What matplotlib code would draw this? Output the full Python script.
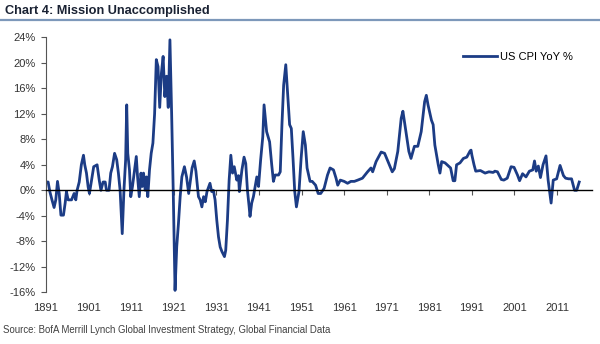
import matplotlib.pyplot as plt
from matplotlib.lines import Line2D

# US CPI, year-over-year % change (decimal years)
years = [
    1891.0, 1891.5, 1891.9, 1892.4, 1892.9, 1893.3, 1893.7, 1894.1, 1894.5, 1895.1,
    1895.5, 1895.8, 1896.2, 1897.0, 1897.6, 1898.0, 1898.3, 1898.8, 1899.3, 1899.8,
    1900.1, 1900.5, 1900.9, 1901.2, 1901.7, 1902.2, 1903.0, 1903.5, 1903.9, 1904.4,
    1904.9, 1905.2, 1905.8, 1906.2, 1906.6, 1907.1, 1907.6, 1908.0, 1908.4, 1908.9,
    1909.3, 1909.7, 1909.95, 1910.2, 1910.6, 1910.9, 1911.3, 1912.0, 1912.2, 1912.5,
    1912.9, 1913.3, 1913.6, 1913.9, 1914.3, 1914.6, 1914.9, 1915.3, 1915.7, 1916.1,
    1916.5, 1916.9, 1917.3, 1917.7, 1918.1, 1918.5, 1918.9, 1919.3, 1919.7, 1920.1,
    1920.5, 1920.9, 1921.3, 1921.7, 1922.1, 1922.5, 1922.9, 1923.5, 1924.0, 1924.5,
    1925.3, 1925.8, 1926.2, 1926.8, 1927.2, 1927.6, 1928.0, 1928.4, 1928.8, 1929.5,
    1929.9, 1930.3, 1930.7, 1931.1, 1931.5, 1931.9, 1932.3, 1932.9, 1933.2, 1933.6,
    1934.0, 1934.4, 1934.8, 1935.2, 1935.8, 1936.2, 1936.4, 1937.0, 1937.5, 1937.9,
    1938.3, 1938.7, 1938.9, 1939.3, 1939.7, 1940.1, 1940.5, 1940.9, 1941.4, 1941.9,
    1942.2, 1942.8, 1943.5, 1944.0, 1944.4, 1944.8, 1945.6, 1946.0, 1946.4, 1946.8,
    1947.3, 1947.7, 1948.2, 1948.6, 1949.0, 1949.4, 1949.8, 1950.4, 1950.9, 1951.4,
    1951.9, 1952.3, 1953.0, 1953.5, 1954.3, 1954.9, 1955.5, 1956.3, 1957.1, 1957.7,
    1958.5, 1959.1, 1959.5, 1960.1, 1961.0, 1961.8, 1962.6, 1963.4, 1964.2, 1965.3,
    1966.5, 1967.3, 1967.7, 1968.5, 1969.7, 1970.5, 1971.3, 1972.3, 1972.8, 1973.6,
    1974.4, 1974.8, 1975.5, 1976.2, 1976.7, 1977.5, 1978.3, 1979.1, 1979.9, 1980.3,
    1980.7, 1981.5, 1981.9, 1982.3, 1982.7, 1983.1, 1983.5, 1983.9, 1984.7, 1985.5,
    1986.0, 1986.6, 1987.0, 1987.4, 1988.2, 1989.0, 1989.8, 1990.6, 1990.8, 1991.0,
    1991.5, 1991.9, 1993.0, 1994.1, 1995.0, 1996.0, 1996.4, 1997.0, 1997.9, 1998.5,
    1999.3, 2000.2, 2000.9, 2001.7, 2002.2, 2002.9, 2003.4, 2003.7, 2004.5, 2005.3,
    2005.7, 2006.1, 2006.6, 2007.1, 2007.7, 2008.4, 2008.9, 2009.3, 2009.6, 2010.1,
    2010.9, 2011.7, 2012.5, 2013.0, 2013.7, 2014.4, 2015.1, 2015.6, 2016.2,
]
cpi_yoy = [
    1.3, 1.3, -0.2, -1.5, -2.7, -1.5, 1.4, -0.5, -3.9, -3.9,
    -2.0, -0.2, -1.5, -1.5, -0.5, -1.5, 0.0, 1.3, 4.0, 5.5,
    4.0, 2.7, 0.5, -0.5, 1.6, 3.7, 4.0, 1.6, 0.0, 1.3,
    1.3, 0.0, 0.0, 2.7, 3.7, 5.8, 4.8, 2.7, 0.0, -6.8,
    0.0, 4.8, 13.4, 5.8, 3.2, -1.0, 0.6, 4.2, 5.3, 2.1,
    -1.0, 2.7, 0.6, 2.7, 0.0, 2.1, -1.0, 3.2, 5.8, 7.4,
    12.0, 20.5, 19.4, 13.0, 18.4, 21.0, 14.7, 17.9, 13.0, 23.6,
    12.0, -1.0, -15.7, -8.8, -5.2, -1.0, 2.1, 3.7, 2.1, -0.5,
    3.5, 4.6, 3.0, -1.0, -1.5, -2.6, -1.0, -1.8, -0.2, 1.1,
    -0.2, 0.0, -1.5, -4.7, -7.3, -8.9, -9.6, -10.4, -9.4, -4.7,
    1.6, 5.5, 2.7, 3.7, 1.6, 2.3, -0.2, 3.2, 5.2, 4.2,
    0.0, -2.6, -4.1, -2.0, -1.0, 0.6, 2.1, 0.6, 4.8, 8.4,
    13.4, 9.2, 7.6, 4.0, 1.4, 2.4, 2.4, 2.9, 10.3, 16.5,
    19.7, 15.5, 10.3, 9.7, 5.0, -0.2, -2.6, -0.2, 5.0, 9.2,
    7.1, 3.5, 1.4, 1.4, 0.8, -0.5, -0.5, 0.3, 2.4, 3.5,
    3.2, 1.9, 0.8, 1.6, 1.4, 1.1, 1.4, 1.4, 1.6, 1.9,
    2.9, 3.5, 2.9, 4.5, 6.0, 5.8, 4.5, 2.9, 3.4, 6.1,
    11.3, 12.4, 9.2, 6.1, 5.0, 6.9, 6.9, 9.2, 13.9, 14.9,
    13.4, 11.0, 10.3, 7.1, 5.5, 4.0, 2.7, 4.5, 4.3, 3.8,
    3.5, 1.5, 1.5, 4.0, 4.3, 5.0, 5.2, 6.2, 6.3, 5.5,
    4.0, 3.0, 3.1, 2.7, 2.9, 2.8, 3.0, 2.9, 1.7, 1.6,
    1.9, 3.7, 3.6, 2.4, 1.5, 2.6, 2.3, 2.1, 3.0, 3.2,
    4.6, 3.0, 3.8, 2.0, 4.0, 5.4, 1.6, -0.5, -2.0, 1.6,
    1.8, 3.9, 2.3, 1.9, 1.8, 1.8, 0.0, 0.0, 1.3,
]

x_ticks = list(range(1891, 2012, 10))
y_ticks = list(range(-16, 25, 4))

plt.rcParams['font.family'] = ['Liberation Sans', 'DejaVu Sans']

fig = plt.figure(figsize=(6, 3.44), dpi=100)
ax = fig.add_axes([46 / 600, 51.7 / 344, 546 / 600, 255 / 344])

ax.plot(years, cpi_yoy, color='#1c3c85', linewidth=2.0, label='US CPI YoY %')

ax.set_xlim(1891, 2019.2)
ax.set_ylim(-16, 24)

# x axis sits on the zero line, labels stay at the bottom
ax.spines['bottom'].set_position(('data', 0))
ax.spines['bottom'].set_color('black')
ax.spines['bottom'].set_linewidth(1.0)
ax.spines['top'].set_visible(False)
ax.spines['right'].set_visible(False)
ax.spines['left'].set_color('#555555')
ax.spines['left'].set_linewidth(0.8)

ax.set_xticks(x_ticks)
ax.set_xticklabels([str(y) for y in x_ticks])
ax.tick_params(axis='x', direction='out', length=3.5, width=0.8, color='#555555',
               pad=78, labelsize=8, labelcolor='#333333')

ax.set_yticks(y_ticks)
ax.set_yticklabels([f'{v}%' for v in y_ticks])
ax.tick_params(axis='y', direction='out', length=3.5, width=0.8, color='#555555',
               pad=4, labelsize=8, labelcolor='#333333')

ax.legend(loc='center left', bbox_to_anchor=(463 / 600, 1 - 57 / 344),
          bbox_transform=fig.transFigure, frameon=False, fontsize=8,
          handlelength=3.1, handletextpad=0.2, borderpad=0, borderaxespad=0)

# header
fig.text(5 / 600, 1 - 11 / 344, 'Chart 4: Mission Unaccomplished', fontsize=9.2,
         fontweight='bold', color='#1a2233', va='center', ha='left')
fig.add_artist(Line2D([0, 1], [1 - 20 / 344, 1 - 20 / 344], transform=fig.transFigure,
                      color='#7d98ba', linewidth=1.6))

fig.text(3 / 600, 1 - 330 / 344,
         'Source: BofA Merrill Lynch Global Investment Strategy, Global Financial Data',
         fontsize=6.9, color='#404040', va='center', ha='left')

fig.savefig('out.png', dpi=100)
